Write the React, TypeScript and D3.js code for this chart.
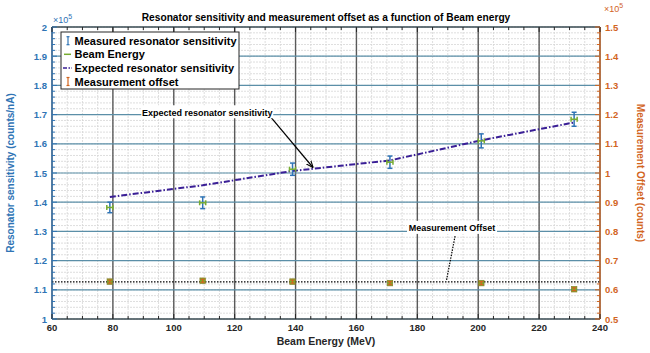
import React from "react";
import * as d3 from "d3";

// beam energies (MeV)
const energy = [79, 109.5, 139, 171, 201, 231.5];
const energyErr = [1, 1, 1, 1, 1, 1];
// measured resonator sensitivity (counts/nA)
const measured = [138200, 139800, 151300, 153700, 161000, 168400];
const measuredErr = [1800, 2000, 2100, 2100, 2400, 2400];
// expected sensitivity
const expected = [141800, 145800, 150700, 154300, 161200, 167300];
// measurement offset (counts)
const offset = [62800, 63100, 62800, 62300, 62300, 60200];
const offsetErr = [500, 500, 500, 500, 500, 500];
const meanOffset = 62700;

const xTicks = [60, 80, 100, 120, 140, 160, 180, 200, 220, 240];
const leftTicks = [1, 1.1, 1.2, 1.3, 1.4, 1.5, 1.6, 1.7, 1.8, 1.9, 2];
const rightTicks = [0.5, 0.6, 0.7, 0.8, 0.9, 1, 1.1, 1.2, 1.3, 1.4, 1.5];

const legendItems = [
  "Measured resonator sensitivity",
  "Beam Energy",
  "Expected resonator sensitivity",
  "Measurement offset",
];

const W = 650;
const H = 353;
const m = { top: 27, right: 50, bottom: 34, left: 52 };

const BLUE = "#2f74b5";
const GRIDBLUE = "#5b8fa8";
const ORANGE = "#d2651f";
const GREEN = "#77ac30";
const PURPLE = "#3a1f96";
const FONT = "'Liberation Sans', Arial, sans-serif";

export default function App() {
  const x = d3.scaleLinear().domain([60, 240]).range([m.left, W - m.right]);
  const yL = d3.scaleLinear().domain([100000, 200000]).range([H - m.bottom, m.top]);
  const yR = d3.scaleLinear().domain([50000, 150000]).range([H - m.bottom, m.top]);

  const x0 = m.left;
  const x1 = W - m.right;
  const y0 = H - m.bottom;
  const y1 = m.top;

  const minorX = d3.range(60, 241, 5);
  const minorY = d3.range(100000, 200001, 2000);

  const expLine = d3
    .line<number>()
    .x((_, i) => x(energy[i]))
    .y((d) => yL(d))(expected);

  const cap = 2.5;

  return (
    <svg width={W} height={H} style={{ display: "block", position: "absolute", left: 0, top: 0 }} fontFamily={FONT}>
      <rect width={W} height={H} fill="#fff" />
      <defs>
        <marker id="arr" viewBox="0 0 10 10" refX="10" refY="5" markerWidth="6" markerHeight="6" orient="auto">
          <path d="M0,1 L10,5 L0,9" fill="none" stroke="#000" strokeWidth="1.5" />
        </marker>
      </defs>

      {/* minor grid */}
      {minorX.map((v) => (
        <line key={"mx" + v} x1={x(v)} x2={x(v)} y1={y0} y2={y1} stroke="#d6d6d6" strokeWidth={0.8} strokeDasharray="2,1" />
      ))}
      {minorY.map((v) => (
        <line key={"my" + v} x1={x0} x2={x1} y1={yL(v)} y2={yL(v)} stroke="#d6d6d6" strokeWidth={0.8} strokeDasharray="2,1" />
      ))}
      {/* major grid */}
      {xTicks.map((v) => (
        <line key={"gx" + v} x1={x(v)} x2={x(v)} y1={y0} y2={y1} stroke="#5a5a5a" strokeWidth={1.4} />
      ))}
      {leftTicks.map((v) => (
        <line key={"gy" + v} x1={x0} x2={x1} y1={yL(v * 1e5)} y2={yL(v * 1e5)} stroke={GRIDBLUE} strokeWidth={1.2} />
      ))}

      {/* measurement offset dotted line */}
      <line x1={x0} x2={x1} y1={yR(meanOffset)} y2={yR(meanOffset)} stroke="#000" strokeWidth={1.3} strokeDasharray="1.5,1.5" />

      {/* expected line */}
      <path d={expLine ?? ""} fill="none" stroke={PURPLE} strokeWidth={2} strokeDasharray="6,2,1.5,2" />

      {/* measured sensitivity */}
      {energy.map((e, i) => {
        const cx = x(e);
        const ya = yL(measured[i] - measuredErr[i]);
        const yb = yL(measured[i] + measuredErr[i]);
        const cy = yL(measured[i]);
        const xa = x(e - energyErr[i]);
        const xb = x(e + energyErr[i]);
        return (
          <g key={"ms" + i}>
            <line x1={cx} x2={cx} y1={ya} y2={yb} stroke={BLUE} strokeWidth={1.5} />
            <line x1={cx - cap} x2={cx + cap} y1={ya} y2={ya} stroke={BLUE} strokeWidth={1.5} />
            <line x1={cx - cap} x2={cx + cap} y1={yb} y2={yb} stroke={BLUE} strokeWidth={1.5} />
            <line x1={xa} x2={xb} y1={cy} y2={cy} stroke={GREEN} strokeWidth={1.5} />
            <line x1={xa} x2={xa} y1={cy - 2.5} y2={cy + 2.5} stroke={GREEN} strokeWidth={1.5} />
            <line x1={xb} x2={xb} y1={cy - 2.5} y2={cy + 2.5} stroke={GREEN} strokeWidth={1.5} />
          </g>
        );
      })}

      {/* offset */}
      {energy.map((e, i) => {
        const cx = x(e);
        const cy = yR(offset[i]);
        const ya = yR(offset[i] - offsetErr[i]);
        const yb = yR(offset[i] + offsetErr[i]);
        return (
          <g key={"of" + i}>
            <rect x={cx - 2.8} y={cy - 2.8} width={5.6} height={5.6} fill={GREEN} stroke="#8a7a20" strokeWidth={0.6} />
            <line x1={cx} x2={cx} y1={ya} y2={yb} stroke={ORANGE} strokeWidth={1.3} />
            <line x1={cx - 2} x2={cx + 2} y1={ya} y2={ya} stroke={ORANGE} strokeWidth={1.3} />
            <line x1={cx - 2} x2={cx + 2} y1={yb} y2={yb} stroke={ORANGE} strokeWidth={1.3} />
          </g>
        );
      })}

      {/* annotations */}
      <line x1={x(131.8)} y1={yL(169200)} x2={x(145.8)} y2={yL(151800)} stroke="#000" strokeWidth={1.2} markerEnd="url(#arr)" />
      <rect x={x(111) - 66} y={yL(170800) - 7} width={132} height={13} fill="#fff" />
      <text x={x(111)} y={yL(170800) + 3.5} textAnchor="middle" fontSize={9} fontWeight="bold">
        Expected resonator sensitivity
      </text>
      <line x1={x(192.4)} y1={yR(78400)} x2={x(189.6)} y2={yR(63400)} stroke="#000" strokeWidth={1.2} strokeDasharray="1.5,1.2" />
      <rect x={x(191.4) - 45} y={yR(81200) - 7} width={90} height={13} fill="#fff" />
      <text x={x(191.4)} y={yR(81200) + 3.5} textAnchor="middle" fontSize={9} fontWeight="bold">
        Measurement Offset
      </text>

      {/* axes box */}
      <line x1={x0} x2={x1} y1={y1} y2={y1} stroke="#262626" strokeWidth={1} />
      <line x1={x0} x2={x1} y1={y0} y2={y0} stroke="#262626" strokeWidth={1} />
      <line x1={x0} x2={x0} y1={y0} y2={y1} stroke={BLUE} strokeWidth={1.2} />
      <line x1={x1} x2={x1} y1={y0} y2={y1} stroke={ORANGE} strokeWidth={1.2} />

      {/* x ticks */}
      {minorX.map((v) => (
        <g key={"xt" + v}>
          <line x1={x(v)} x2={x(v)} y1={y0} y2={y0 - (v % 20 === 0 ? 5 : 3)} stroke="#262626" />
          <line x1={x(v)} x2={x(v)} y1={y1} y2={y1 + (v % 20 === 0 ? 5 : 3)} stroke="#262626" />
        </g>
      ))}
      {xTicks.map((v) => (
        <text key={"xl" + v} x={x(v)} y={y0 + 12} textAnchor="middle" fontSize={9.5} fontWeight="bold" fill="#262626">
          {v}
        </text>
      ))}
      <text x={(x0 + x1) / 2} y={y0 + 26} textAnchor="middle" fontSize={10.5} fontWeight="bold" fill="#262626">
        Beam Energy (MeV)
      </text>

      {/* left ticks */}
      {minorY.map((v, i) => (
        <line key={"lt" + v} x1={x0} x2={x0 + (i % 5 === 0 ? 5 : 3)} y1={yL(v)} y2={yL(v)} stroke={BLUE} />
      ))}
      {leftTicks.map((v) => (
        <text key={"ll" + v} x={x0 - 5} y={yL(v * 1e5) + 3.5} textAnchor="end" fontSize={9.5} fontWeight="bold" fill={BLUE}>
          {d3.format("~g")(v)}
        </text>
      ))}
      <text x={x0 + 1} y={y1 - 4} fontSize={9} fill={BLUE}>
        ×10<tspan dy={-4} fontSize={7}>5</tspan>
      </text>
      <text transform={`translate(${14},${(y0 + y1) / 2}) rotate(-90)`} textAnchor="middle" fontSize={10} fontWeight="bold" fill={BLUE}>
        Resonator sensitivity (counts/nA)
      </text>

      {/* right ticks */}
      {minorY.map((v, i) => (
        <line key={"rt" + v} x1={x1} x2={x1 - (i % 5 === 0 ? 5 : 3)} y1={yL(v)} y2={yL(v)} stroke={ORANGE} />
      ))}
      {rightTicks.map((v) => (
        <text key={"rl" + v} x={x1 + 5} y={yR(v * 1e5) + 3.5} textAnchor="start" fontSize={9.5} fontWeight="bold" fill={ORANGE}>
          {d3.format("~g")(v)}
        </text>
      ))}
      <text x={x1 + 4} y={y1 - 15} fontSize={9} fill={ORANGE}>
        ×10<tspan dy={-4} fontSize={7}>5</tspan>
      </text>
      <text transform={`translate(${637},${(y0 + y1) / 2}) rotate(90)`} textAnchor="middle" fontSize={10} fontWeight="bold" fill={ORANGE}>
        Measurement Offset (counts)
      </text>

      {/* title */}
      <text x={(x0 + x1) / 2} y={21} textAnchor="middle" fontSize={10.2} fontWeight="bold" fill="#000">
        Resonator sensitivity and measurement offset as a function of Beam energy
      </text>

      {/* legend */}
      <g transform={`translate(${61},${32})`}>
        <rect width={178} height={57} fill="#fff" stroke="#262626" strokeWidth={1} />
        {legendItems.map((t, i) => {
          const cy = 8.7 + i * 13.6;
          return (
            <g key={t} transform={`translate(0,${cy})`}>
              {i === 0 && (
                <g stroke={BLUE} strokeWidth={1.2}>
                  <line x1={7} x2={7} y1={-4} y2={4} />
                  <line x1={5.5} x2={8.5} y1={-4} y2={-4} />
                  <line x1={5.5} x2={8.5} y1={4} y2={4} />
                </g>
              )}
              {i === 1 && <line x1={3} x2={10} y1={0} y2={0} stroke={GREEN} strokeWidth={1.5} />}
              {i === 2 && <line x1={2} x2={11} y1={0} y2={0} stroke={PURPLE} strokeWidth={1.5} strokeDasharray="4,1.5,1.5,1.5" />}
              {i === 3 && (
                <g stroke={ORANGE} strokeWidth={1.2}>
                  <line x1={7} x2={7} y1={-4} y2={4} />
                  <line x1={5.5} x2={8.5} y1={-4} y2={-4} />
                  <line x1={5.5} x2={8.5} y1={4} y2={4} />
                </g>
              )}
              <text x={13.5} y={4} fontSize={11} fontWeight="bold" fill="#000">
                {t}
              </text>
            </g>
          );
        })}
      </g>
    </svg>
  );
}
